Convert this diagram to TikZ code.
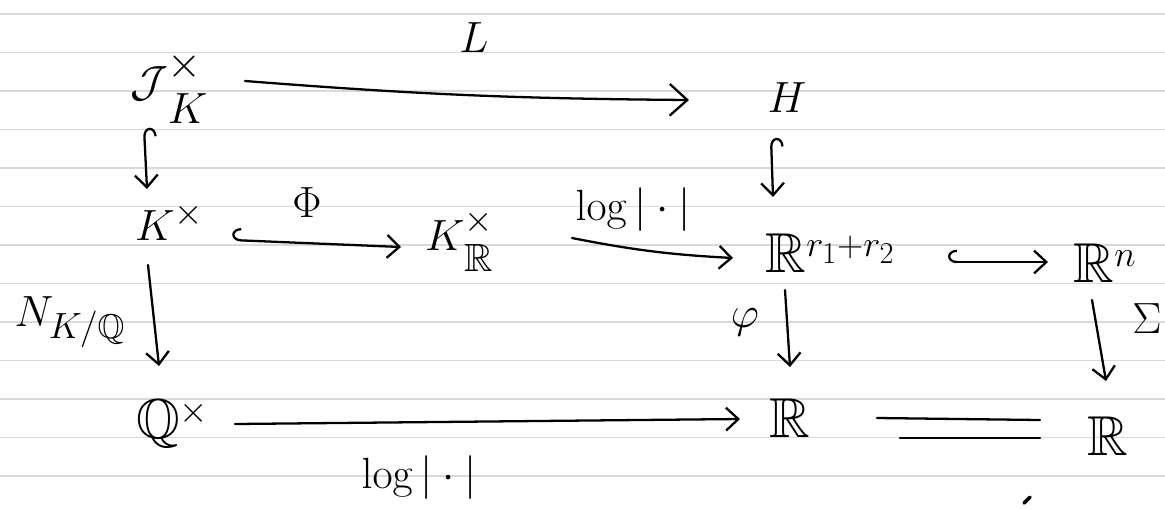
\documentclass[tikz,border=0pt]{standalone}
\usepackage{amssymb}
\usepackage{mathtools}
\usetikzlibrary{arrows.meta,calc}
\begin{document}
\begin{tikzpicture}[x=0.02cm,y=-0.02cm,
  obj/.style={inner sep=0pt, anchor=base, font=\fontsize{32}{36}\selectfont},
  lab/.style={inner sep=0pt, font=\fontsize{28}{32}\selectfont},
  tipb/.tip={Straight Barb[length=7pt,width=13pt,line width=1.3pt]},
  arr/.style={line width=1.3pt, line cap=round, -{tipb}},
  hookarr/.style={line width=1.3pt, line cap=round, {Hooks[right,length=5pt,width=14pt]}-{tipb}},
  ruled/.style={black!15, line width=1pt}]
\useasboundingbox (0,0) rectangle (1165,508);
\fill[white] (0,0) rectangle (1165,508);
\foreach \k in {0,...,12} \draw[ruled] (0,14+38.5*\k) -- (1165,14+38.5*\k);

% objects (placed at base point of the main letter)
\node[obj, font=\fontsize{44}{48}\selectfont] (J) at (149,96) {$\mathcal{J}\mathrlap{^{\times}_{K}}$};
\node[obj, font=\fontsize{34}{38}\selectfont] (H) at (787,112) {$H$};
\node[obj] (Kx) at (155,240) {$K\mathrlap{^{\times}}$};
\node[obj] (KxR) at (445,250) {$K\mathrlap{^{\times}_{\mathbb{R}}}$};
\node[obj] (Rr) at (786,272) {$\mathbb{R}\mathrlap{^{r_1+r_2}}$};
\node[obj] (Rn) at (1094,282) {$\mathbb{R}\mathrlap{^{n}}$};
\node[obj] (Qx) at (158,438) {$\mathbb{Q}\mathrlap{^{\times}}$};
\node[obj] (Rm) at (790,437) {$\mathbb{R}$};
\node[obj] (Rr2) at (1108,455) {$\mathbb{R}$};

% labels
\node[lab, font=\fontsize{34}{38}\selectfont] (lL) at (474,38) {$L$};
\node[lab] (lPhi) at (307,203) {$\Phi$};
\node[lab] (llogA) at (633,210) {$\log|\cdot|$};
\node[lab] (lN) at (70,322) {$N_{K/\mathbb{Q}}$};
\node[lab] (lphi) at (745,322) {$\varphi$};
\node[lab] (lS) at (1147,319) {$\Sigma$};
\node[lab] (llogB) at (419,478) {$\log|\cdot|$};

% connectors
\draw[line width=1.3pt, line cap=round, -{Straight Barb[length=10pt,width=18pt,line width=1.3pt]}]
  ($(J.base)+(96,-15)$) to[bend right=2] ($(H.base)+(-98,-12)$);
\draw[hookarr] ($(J.base)+(-5,32)$) -- ($(Kx.base)+(-8,-51)$);
\draw[hookarr] ($(H.base)+(-16,26)$) -- ($(Rr.base)+(-13,-75)$);
\draw[hookarr] ($(Kx.base)+(77,0)$) -- ($(KxR.base)+(-44,-3)$);
\draw[arr] ($(KxR.base)+(127,-12)$) to[bend right=4] ($(Rr.base)+(-53,-14)$);
\draw[hookarr] ($(Rr.base)+(162,-10)$) -- ($(Rn.base)+(-46,-20)$);
\draw[arr] ($(Kx.base)+(-7,25)$) -- ($(Qx.base)+(1,-72)$);
\draw[arr] ($(Rr.base)+(-1,18)$) -- ($(Rm.base)+(0,-70)$);
\draw[arr] ($(Rn.base)+(-2,18)$) -- ($(Rr2.base)+(-2,-74)$);
\draw[arr] ($(Qx.base)+(77,-14)$) -- ($(Rm.base)+(-50,-18)$);
\draw[line width=1.3pt, line cap=round] ($(Rm.base)+(87,-19)$) -- ($(Rr2.base)+(-68,-35)$);
\draw[line width=1.3pt, line cap=round] ($(Rm.base)+(110,1)$) -- ($(Rr2.base)+(-68,-17)$);

% stray pen mark
\draw[line width=2pt, line cap=round] (1024,503) -- (1030,497);
\end{tikzpicture}
\end{document}
